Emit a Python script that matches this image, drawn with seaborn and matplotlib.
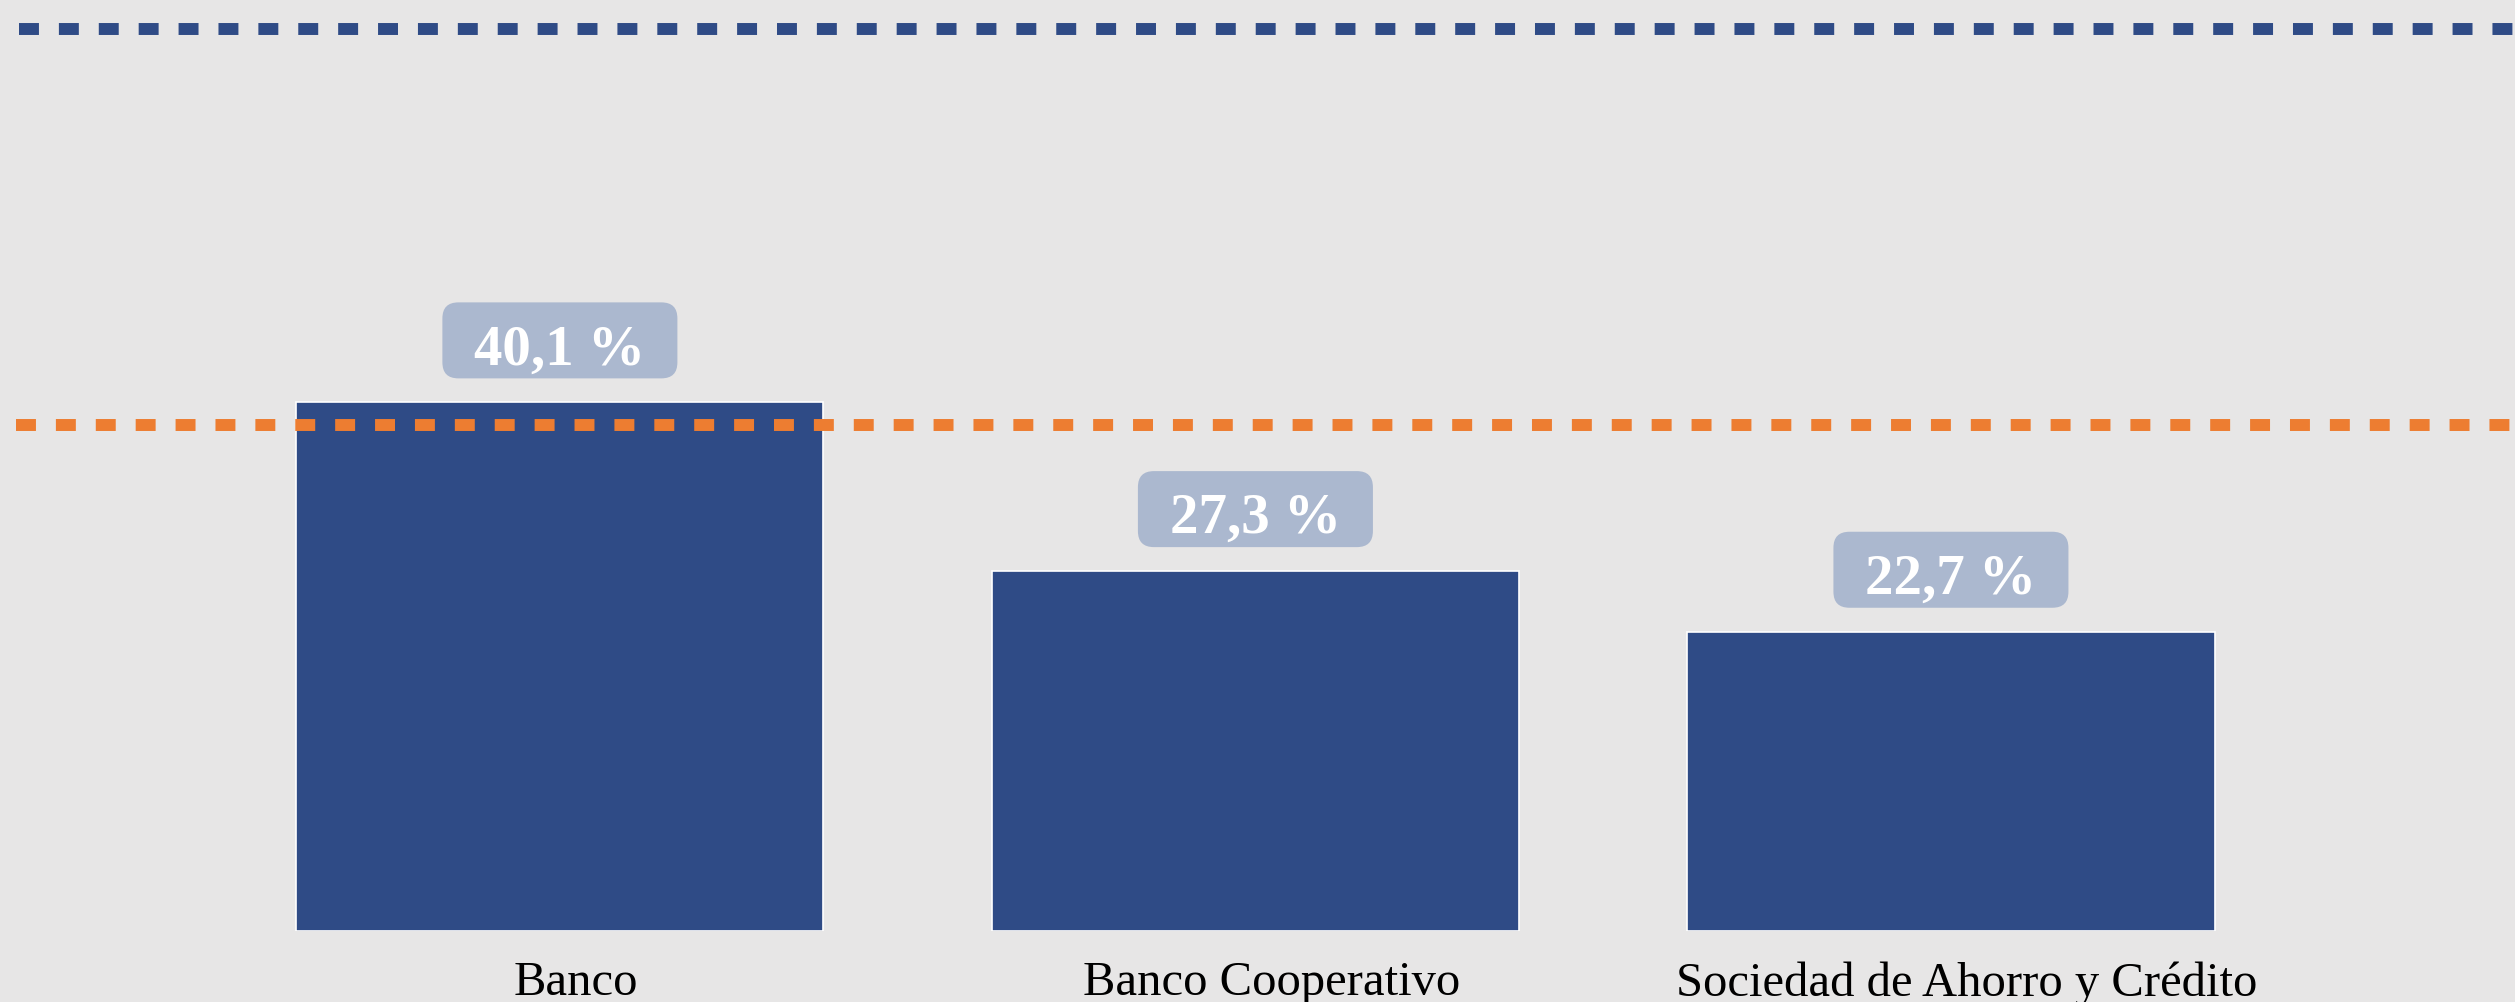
import matplotlib
matplotlib.use("Agg")
import matplotlib.pyplot as plt
import matplotlib.transforms as mtransforms
from matplotlib.patches import FancyBboxPatch
import pandas as pd
import seaborn as sns

# data
categorias = ["Banco", "Banco Cooperativo", "Sociedad de Ahorro y Crédito"]
porcentajes = [40.1, 27.3, 22.7]
etiquetas = ["40,1 %", "27,3 %", "22,7 %"]
linea_azul = 68.4
linea_naranja = 38.4

df = pd.DataFrame({"tipo": categorias, "pct": porcentajes})

fondo = "#E7E6E6"
azul = "#2F4B86"
naranja = "#ED7D31"
caja = "#ABB8CF"

sns.set_style("white")
plt.rcParams["font.family"] = ["Liberation Serif", "DejaVu Serif"]

fig = plt.figure(figsize=(25.15, 10.03), dpi=100, facecolor=fondo)
ax = fig.add_axes([0, 0.0708, 1, 0.9292])
ax.set_facecolor(fondo)

sns.barplot(data=df, x="tipo", y="pct", color=azul, width=0.758, saturation=1,
            edgecolor="white", linewidth=1.2, ax=ax, zorder=2)

ax.set_xlim(-0.805, 2.811)
ax.set_ylim(0, 70.7)

# reference lines (dash 20px / gap 20px)
ax.axhline(linea_azul, xmin=0.0075, color=azul, lw=8.6, dashes=(1.67, 1.67), zorder=5)
ax.axhline(linea_naranja, xmin=0.0065, color=naranja, lw=8.6, dashes=(1.67, 1.67), zorder=3)

# value boxes
px_x = 1 / 695.5
px_y = 70.7 / 932
w_box = 235 * px_x
h_box = 76 * px_y
gap = 24 * px_y
for i, (v, t) in enumerate(zip(porcentajes, etiquetas)):
    b = FancyBboxPatch((i - w_box / 2, v + gap), w_box, h_box,
                       boxstyle=f"round,pad=0,rounding_size={16 * px_x}",
                       mutation_aspect=px_y / px_x,
                       facecolor=caja, edgecolor="none", zorder=6)
    ax.add_patch(b)
    ax.text(i, v + gap + 15 * px_y, t, ha="center", va="baseline",
            fontsize=41, fontweight="bold", color="white", zorder=7)

ax.set_xlabel("")
ax.set_ylabel("")
ax.set_yticks([])
ax.tick_params(axis="x", length=0, pad=21, labelsize=35, labelcolor="black")
off = mtransforms.ScaledTranslation(0.16, 0, fig.dpi_scale_trans)
for lab in ax.get_xticklabels():
    lab.set_transform(lab.get_transform() + off)
for s in ax.spines.values():
    s.set_visible(False)

fig.savefig("out.png", dpi=100, facecolor=fondo)
